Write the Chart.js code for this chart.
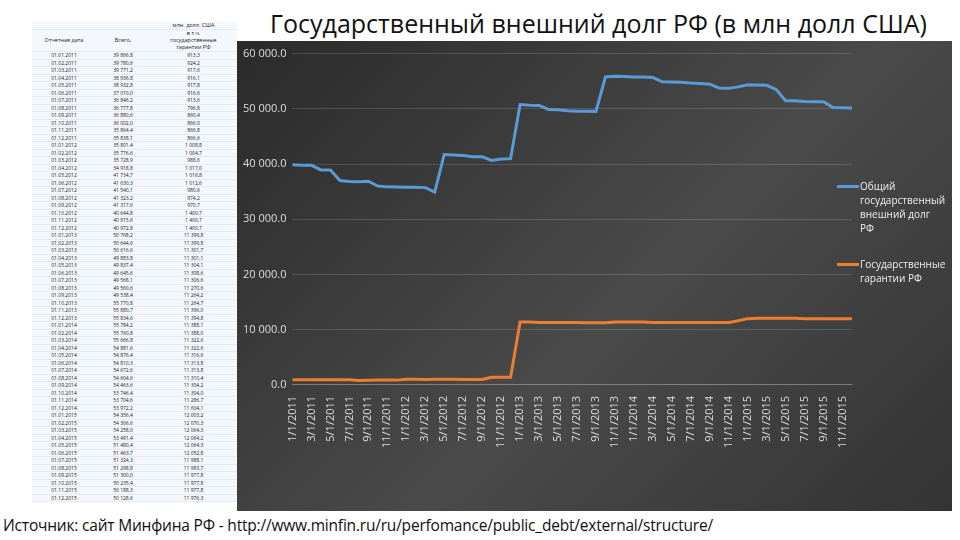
<!DOCTYPE html>
<html>
<head>
<meta charset="utf-8">
<script src="https://cdn.jsdelivr.net/npm/chart.js@4"></script>
<style>
  body { margin: 0; width: 960px; height: 540px; background: #fff; font-family: 'Open Sans', sans-serif; position: relative; overflow: hidden; }
  #title { position: absolute; left: 270px; top: 6px; font-size: 25px; color: #111; }
  #panel { position: absolute; left: 237px; top: 41px; width: 715px; height: 470px;
    background: linear-gradient(135deg, #2a2a2a 0%, #4a4a4a 55%, #333 100%); }
  #chartBox { position: absolute; left: 0; top: 0; width: 715px; height: 470px; }
  #legend { position: absolute; left: 600px; top: 138px; color: #eee; font-size: 10px; line-height: 14px; }
  .item { display: flex; margin-bottom: 22px; }
  .sw { width: 22px; height: 3px; margin-top: 6px; margin-right: 1px; }
  #source { position: absolute; left: 3px; top: 514px; font-size: 15.5px; color: #111; white-space: nowrap; letter-spacing: -0.2px; }
  table { position: absolute; left: 32px; top: 22px; border-collapse: collapse; font-size: 5px; color: #222; table-layout: fixed; width: 205px; }
  td { padding: 0 1px; height: 6.5px; line-height: 6.5px; text-align: center; border-bottom: 1px solid #e4eaf2; background: #f4f7fb; overflow: hidden; white-space: nowrap; }
  td.h { height: auto; line-height: 7px; font-size: 5.5px; white-space: normal; }
</style>
</head>
<body>
<div id="title">Государственный внешний долг РФ (в млн долл США)</div>
<table id="tbl"><colgroup><col style="width:64px"><col style="width:54px"><col style="width:87px"></colgroup></table>
<div id="panel">
  <div id="chartBox"><canvas id="chart"></canvas></div>
  <div id="legend">
    <div class="item"><div class="sw" style="background:#5b9bd5"></div><div>Общий<br>государственный<br>внешний долг<br>РФ</div></div>
    <div class="item"><div class="sw" style="background:#ed7d31"></div><div>Государственные<br>гарантии РФ</div></div>
  </div>
</div>
<div id="source">Источник: сайт Минфина РФ - http://www.minfin.ru/ru/perfomance/public_debt/external/structure/</div>
<script>
const dates = []
for (let y = 2011; y <= 2015; y++) for (let m = 1; m <= 12; m++) dates.push(m + '/1/' + y)

const totalDebt = [
  39866.8, 39780.6, 39771.2, 38936.8, 38932.8, 37010.0, 36846.2, 36777.8, 36880.6, 36002.0, 35864.4, 35838.1,
  35801.4, 35776.6, 35728.9, 34918.8, 41734.7, 41630.3, 41540.1, 41323.2, 41317.6, 40644.8, 40915.6, 40972.8,
  50768.2, 50644.6, 50616.6, 49883.8, 49837.4, 49645.6, 49568.1, 49560.6, 49538.4, 55770.8, 55880.7, 55834.6,
  55784.2, 55760.8, 55666.8, 54881.6, 54876.4, 54810.3, 54672.6, 54604.6, 54463.6, 53746.4, 53704.6, 53972.2,
  54356.4, 54306.6, 54258.0, 53491.4, 51480.4, 51463.7, 51324.3, 51298.8, 51300.0, 50235.4, 50188.3, 50128.6
]
const guarantees = [
  913.3, 924.2, 917.6, 916.1, 917.8, 916.6, 913.6, 796.8, 860.4, 866.0, 866.8, 866.6,
  1008.8, 1004.7, 988.6, 1017.0, 1016.8, 1012.6, 980.6, 974.2, 970.7, 1400.7, 1400.7, 1400.7,
  11399.8, 11399.8, 11301.7, 11301.1, 11304.1, 11308.6, 11306.6, 11270.6, 11264.2, 11264.7, 11396.0, 11394.8,
  11388.1, 11388.0, 11322.6, 11322.6, 11316.6, 11313.8, 11313.8, 11310.4, 11304.2, 11304.0, 11286.7, 11604.1,
  12003.2, 12070.3, 12064.3, 12064.2, 12064.3, 12052.8, 11988.1, 11983.7, 11977.8, 11977.8, 11977.8, 11976.3
]

// Table on the left
const fmt = (v) => {
  const [i, d] = v.toFixed(1).split('.')
  return (i.length > 3 ? i.slice(0, i.length - 3) + ' ' + i.slice(-3) : i) + ',' + d
}
let html = '<tr><td class="h"></td><td class="h"></td><td class="h">млн. долл. США</td></tr>' +
  '<tr><td class="h">Отчетная дата</td><td class="h">Всего,</td><td class="h">в т.ч.<br>государственные<br>гарантии РФ</td></tr>'
dates.forEach((d, i) => {
  const [m, , y] = d.split('/')
  html += `<tr><td>01.${m.padStart(2, '0')}.${y}</td><td>${fmt(totalDebt[i])}</td><td>${fmt(guarantees[i])}</td></tr>`
})
document.getElementById('tbl').insertAdjacentHTML('beforeend', html)

new Chart(document.getElementById('chart'), {
  type: 'line',
  data: {
    labels: dates,
    datasets: [
      { label: 'Общий государственный внешний долг РФ', data: totalDebt, borderColor: '#5b9bd5', borderWidth: 3, pointRadius: 0, tension: 0 },
      { label: 'Государственные гарантии РФ', data: guarantees, borderColor: '#ed7d31', borderWidth: 3, pointRadius: 0, tension: 0 }
    ]
  },
  options: {
    responsive: true,
    maintainAspectRatio: false,
    animation: false,
    layout: { padding: { left: 0, right: 100, top: 8, bottom: 60 } },
    plugins: { legend: { display: false }, tooltip: { enabled: false } },
    scales: {
      y: {
        min: 0, max: 60000,
        ticks: {
          stepSize: 10000, color: '#ddd', font: { size: 11, family: 'Open Sans' }, padding: 6,
          callback: (v) => (v === 0 ? '0.0' : (v / 1000) + ' 000.0')
        },
        grid: { color: 'rgba(255,255,255,0.15)', drawTicks: false },
        border: { display: false }
      },
      x: {
        offset: false,
        ticks: {
          autoSkip: false, maxRotation: 90, minRotation: 90, color: '#ddd', font: { size: 11, family: 'Open Sans' },
          callback: function (v, i) { return i % 2 === 0 ? this.getLabelForValue(v) : '' }
        },
        grid: { display: false },
        border: { color: 'rgba(255,255,255,0.2)' }
      }
    }
  }
})
</script>
</body>
</html>
